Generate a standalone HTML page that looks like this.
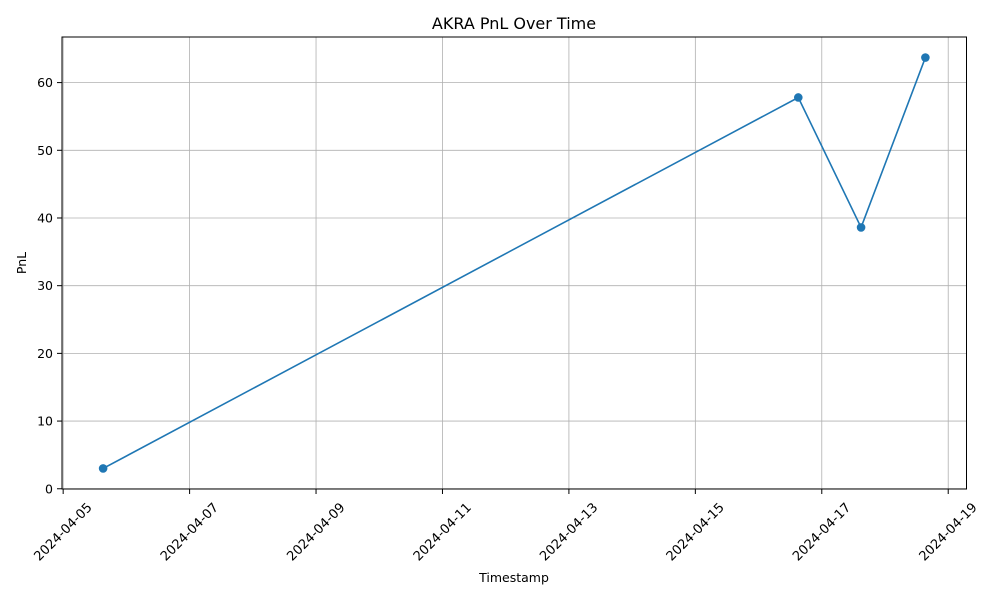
<!DOCTYPE html>
<html><head><meta charset="utf-8"><style>
body{margin:0;background:#fff;}
svg{font-family:"DejaVu Sans","Liberation Sans",sans-serif;}
</style></head><body>
<svg id="chart" width="1000" height="600" viewBox="0 0 1000 600">
<rect width="1000" height="600" fill="#fff"/>
<text x="514" y="29" font-size="16" text-anchor="middle">AKRA PnL Over Time</text>
<g id="grid"></g>
<g id="xticks"></g>
<g id="yticks"></g>
<path id="line" fill="none" stroke="#1f77b4" stroke-width="1.6"/>
<g id="points"></g>
<rect x="62" y="37" width="904.5" height="452" fill="none" stroke="#000" stroke-width="1"/>
<text x="514" y="582" font-size="12.5" text-anchor="middle">Timestamp</text>
<text transform="translate(26,263) rotate(-90)" font-size="12.5" text-anchor="middle">PnL</text>
</svg>
<script>
const dates = ["2024-04-05T15:10","2024-04-16T15:05","2024-04-17T14:55","2024-04-18T15:20"];
const pnl = [3.0, 57.8, 38.6, 63.7];
const xTickLabels = ["2024-04-05","2024-04-07","2024-04-09","2024-04-11","2024-04-13","2024-04-15","2024-04-17","2024-04-19"];
const yTickValues = [0,10,20,30,40,50,60];

const L=62,R=966.5,T=37,B=489,NS="http://www.w3.org/2000/svg";
const ts=dates.map(d=>Date.parse(d+"Z"));
const xmin0=Math.min(...ts),xmax0=Math.max(...ts),xs=xmax0-xmin0;
const xmin=xmin0-0.05*xs,xmax=xmax0+0.05*xs;
const ymin0=Math.min(...pnl),ymax0=Math.max(...pnl),ys=ymax0-ymin0;
const ymin=ymin0-0.05*ys,ymax=ymax0+0.05*ys;
const X=t=>L+(t-xmin)/(xmax-xmin)*(R-L);
const Y=v=>B-(v-ymin)/(ymax-ymin)*(B-T);
function el(tag,attrs,parent){const e=document.createElementNS(NS,tag);for(const k in attrs)e.setAttribute(k,attrs[k]);parent.appendChild(e);return e;}
const grid=document.getElementById('grid'),xt=document.getElementById('xticks'),yt=document.getElementById('yticks');
xTickLabels.forEach(s=>{
  const x=X(Date.parse(s+"T00:00Z"));
  if(x<L-1||x>R+1)return;
  const g=el('line',{x1:x,x2:x,y1:T,y2:B,stroke:'#b0b0b0','stroke-width':0.8},grid);
  
  
  const tk=el('line',{x1:x,x2:x,y1:B,y2:B+5,stroke:'#000'},xt);
  
  
  const tx=el('text',{x:x,y:536,'font-size':13,'text-anchor':'middle',transform:`rotate(-45 ${x} 532)`},xt);
  tx.textContent=s;
  
  
});
yTickValues.forEach(v=>{
  const y=Y(v);
  const g=el('line',{x1:L,x2:R,y1:y,y2:y,stroke:'#b0b0b0','stroke-width':0.8},grid);
  
  
  const tk=el('line',{x1:L-5,x2:L,y1:y,y2:y,stroke:'#000'},yt);
  
  
  const tx=el('text',{x:L-9,y:y+4.5,'font-size':12.5,'text-anchor':'end'},yt);
  tx.textContent=v;
  
  
});
document.getElementById('line').setAttribute('d',ts.map((t,i)=>(i?'L':'M')+X(t)+' '+Y(pnl[i])).join(' '));
const pts=document.getElementById('points');
ts.forEach((t,i)=>{
  const c=el('circle',{cx:X(t),cy:Y(pnl[i]),r:4.3,fill:'#1f77b4'},pts);
  
  
});
</script>
</body></html>
